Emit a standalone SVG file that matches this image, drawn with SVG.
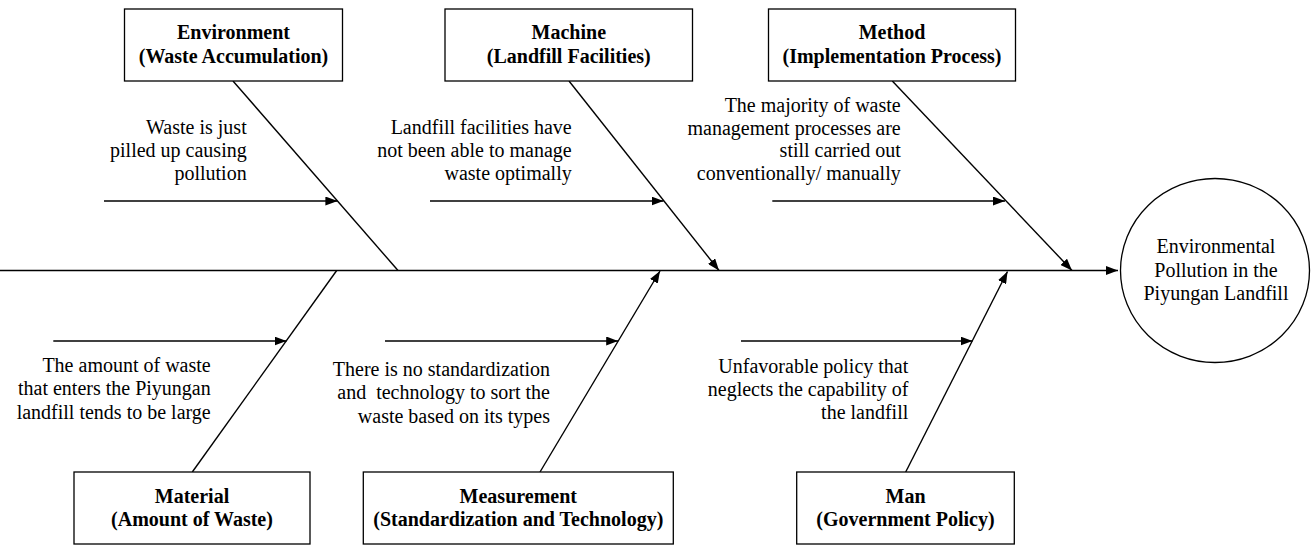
<svg xmlns="http://www.w3.org/2000/svg" width="1311" height="546" viewBox="0 0 1311 546">
<style>
.box{fill:#fff;stroke:#000;stroke-width:1.3}
.ln{fill:none;stroke:#000;stroke-width:1.4}
.hd{font-family:'Liberation Serif','DejaVu Serif',serif;font-size:20px;font-weight:bold;text-anchor:middle;fill:#000}
.tx{font-family:'Liberation Serif','DejaVu Serif',serif;font-size:20px;text-anchor:end;fill:#000}
.ct{font-family:'Liberation Serif','DejaVu Serif',serif;font-size:20px;text-anchor:middle;fill:#000}
</style>
<defs>
<marker id="ah" viewBox="0 0 12 9" refX="12" refY="4.5" markerWidth="12" markerHeight="9" markerUnits="userSpaceOnUse" orient="auto">
<path d="M0,0 L12,4.5 L0,9 z" fill="#000"/>
</marker>
</defs>
<rect width="1311" height="546" fill="#fff"/>
<g id="connectors">
<line class="ln" x1="0" y1="270.5" x2="1118" y2="270.5" stroke-width="1.6" marker-end="url(#ah)"/>
<line class="ln" x1="233" y1="81" x2="398" y2="270.5"/>
<line class="ln" x1="569" y1="81" x2="719" y2="270.5" marker-end="url(#ah)"/>
<line class="ln" x1="892.3" y1="81" x2="1072" y2="270.5" marker-end="url(#ah)"/>
<line class="ln" x1="192.3" y1="472" x2="336.7" y2="270.5"/>
<line class="ln" x1="540" y1="472" x2="660" y2="271" marker-end="url(#ah)"/>
<line class="ln" x1="905.7" y1="472" x2="1007.5" y2="271.5" marker-end="url(#ah)"/>
<line class="ln" x1="104" y1="201" x2="337.4" y2="201" marker-end="url(#ah)"/>
<line class="ln" x1="430" y1="201" x2="663.5" y2="201" marker-end="url(#ah)"/>
<line class="ln" x1="772.3" y1="201" x2="1005" y2="201" marker-end="url(#ah)"/>
<line class="ln" x1="53.3" y1="341" x2="286.5" y2="341" marker-end="url(#ah)"/>
<line class="ln" x1="385" y1="341" x2="618.2" y2="341" marker-end="url(#ah)"/>
<line class="ln" x1="741" y1="341" x2="972.5" y2="341" marker-end="url(#ah)"/>
</g>
<g id="environment">
<rect class="box" x="124.5" y="9" width="218" height="72"/>
<text class="hd" x="233.5" y="39.3">Environment</text>
<text class="hd" x="233.5" y="62.7">(Waste Accumulation)</text>
</g>
<g id="environment-cause">
<text class="tx" x="246.7" y="133.5">Waste is just</text>
<text class="tx" x="246.7" y="156.7">pilled up causing</text>
<text class="tx" x="246.7" y="180">pollution</text>
</g>
<g id="machine">
<rect class="box" x="445" y="9" width="247.5" height="72"/>
<text class="hd" x="568.8" y="39.3">Machine</text>
<text class="hd" x="568.8" y="62.7">(Landfill Facilities)</text>
</g>
<g id="machine-cause">
<text class="tx" x="571.7" y="134">Landfill facilities have</text>
<text class="tx" x="571.7" y="157.3">not been able to manage</text>
<text class="tx" x="571.7" y="180">waste optimally</text>
</g>
<g id="method">
<rect class="box" x="768.5" y="9" width="247" height="72"/>
<text class="hd" x="892" y="39.3">Method</text>
<text class="hd" x="892" y="62.7">(Implementation Process)</text>
</g>
<g id="method-cause">
<text class="tx" x="900.7" y="111.5">The majority of waste</text>
<text class="tx" x="900.7" y="134.5">management processes are</text>
<text class="tx" x="900.7" y="157">still carried out</text>
<text class="tx" x="900.7" y="180">conventionally/ manually</text>
</g>
<g id="material">
<rect class="box" x="74" y="472" width="236" height="72"/>
<text class="hd" x="192" y="502.7">Material</text>
<text class="hd" x="192" y="526">(Amount of Waste)</text>
</g>
<g id="material-cause">
<text class="tx" x="210.7" y="372">The amount of waste</text>
<text class="tx" x="210.7" y="395.3">that enters the Piyungan</text>
<text class="tx" x="210.7" y="418.7">landfill tends to be large</text>
</g>
<g id="measurement">
<rect class="box" x="363.3" y="472" width="310" height="72"/>
<text class="hd" x="518.3" y="502.7">Measurement</text>
<text class="hd" x="518.3" y="526">(Standardization and Technology)</text>
</g>
<g id="measurement-cause">
<text class="tx" x="550" y="376">There is no standardization</text>
<text class="tx" x="550" y="399.3" xml:space="preserve">and  technology to sort the</text>
<text class="tx" x="550" y="422.7">waste based on its types</text>
</g>
<g id="man">
<rect class="box" x="796.7" y="472" width="217.6" height="72"/>
<text class="hd" x="905.5" y="502.7">Man</text>
<text class="hd" x="905.5" y="526">(Government Policy)</text>
</g>
<g id="man-cause">
<text class="tx" x="908.3" y="372.7">Unfavorable policy that</text>
<text class="tx" x="908.3" y="396">neglects the capability of</text>
<text class="tx" x="908.3" y="419.3">the landfill</text>
</g>
<g id="effect">
<ellipse cx="1215" cy="270.5" rx="94.5" ry="92" fill="#fff" stroke="#000" stroke-width="1.3"/>
<text class="ct" x="1216" y="253.3">Environmental</text>
<text class="ct" x="1216" y="276.7">Pollution in the</text>
<text class="ct" x="1216" y="300">Piyungan Landfill</text>
</g>
</svg>
